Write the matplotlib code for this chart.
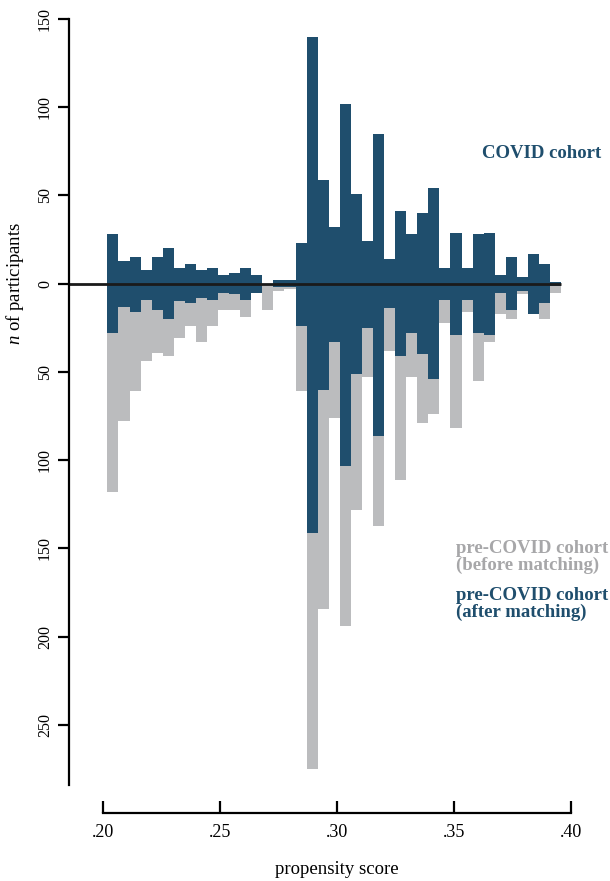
import numpy as np
import matplotlib
matplotlib.use('Agg')
import matplotlib.pyplot as plt

plt.rcParams['font.family'] = ['Liberation Serif', 'DejaVu Serif']
plt.rcParams['mathtext.fontset'] = 'custom'
plt.rcParams['mathtext.rm'] = 'Liberation Serif'
plt.rcParams['mathtext.it'] = 'Liberation Serif:italic'

# histogram bins (propensity score)
bin_start = 0.202
bin_width = 0.00473

# counts per bin
covid = [28, 13, 15, 8, 15, 20, 9, 11, 8, 9, 5, 6, 9, 5, 0, 2, 2, 23, 140, 59,
         32, 102, 51, 24, 85, 14, 41, 28, 40, 54, 9, 29, 9, 28, 29, 5, 15, 4, 17, 11, 1]
pre_after = [28, 13, 16, 9, 15, 20, 10, 11, 8, 9, 5, 6, 9, 5, 0, 2, 2, 24, 141, 60,
             33, 103, 51, 25, 86, 14, 41, 28, 40, 54, 9, 29, 9, 28, 29, 5, 15, 4, 17, 11, 1]
pre_before = [118, 78, 61, 44, 39, 41, 31, 24, 33, 24, 15, 15, 19, 5, 15, 4, 3, 61, 275, 184,
              76, 194, 128, 53, 137, 38, 111, 53, 79, 74, 22, 82, 16, 55, 33, 17, 20, 6, 17, 20, 5]

xticks = [0.20, 0.25, 0.30, 0.35, 0.40]
xticklabels = ['.20', '.25', '.30', '.35', '.40']
yticks = [150, 100, 50, 0, -50, -100, -150, -200, -250]

blue = '#1f4e6d'
gray = '#bbbcbe'
gray_text = '#a7a7a9'

W, H = 610, 881
fig = plt.figure(figsize=(W / 100, H / 100), dpi=100)
ax = fig.add_axes([69 / W, 1 - 785 / H, (580 - 69) / W, (785 - 19) / H])

edges = bin_start + bin_width * np.arange(len(covid))
ax.bar(edges, -np.array(pre_before), width=bin_width, align='edge', color=gray, linewidth=0)
ax.bar(edges, -np.array(pre_after), width=bin_width, align='edge', color=blue, linewidth=0)
ax.bar(edges, covid, width=bin_width, align='edge', color=blue, linewidth=0)

x0 = 0.2 - (102.7 - 69) / 2340
x1 = 0.2 + (580 - 102.7) / 2340
ax.plot([x0, edges[-1] + bin_width], [0, 0], color='#1a1a1a', lw=2.0, solid_capstyle='butt')

ax.set_xlim(x0, x1)
ax.set_ylim(-284, 150)

for s in ['top', 'right']:
    ax.spines[s].set_visible(False)
ax.spines['left'].set_linewidth(1.6)
ax.spines['bottom'].set_linewidth(1.6)
ax.spines['bottom'].set_position(('outward', 28 * 0.72))
ax.spines['bottom'].set_bounds(0.2, 0.4)

ax.set_xticks(xticks)
ax.set_xticklabels(xticklabels)
ax.tick_params(axis='x', direction='in', length=8.5, width=1.6, pad=8, labelsize=13)
ax.set_yticks(yticks)
ax.set_yticklabels([str(abs(v)) for v in yticks], rotation=90, va='center')
ax.tick_params(axis='y', direction='out', length=8, width=1.6, pad=3.5, labelsize=11.5)

fig.text(15 / W, 1 - 283 / H, r'$n$ of participants', rotation=90,
         ha='center', va='center', fontsize=13.5)
fig.text(337 / W, 1 - 870 / H, 'propensity score', ha='center', va='center', fontsize=13.5)

fig.text(601 / W, 1 - 153 / H, 'COVID cohort', ha='right', va='center',
         fontsize=13.5, fontweight='bold', color=blue)
fig.text(456 / W, 1 - 557 / H, 'pre-COVID cohort\n(before matching)', ha='left', va='center',
         fontsize=13.5, fontweight='bold', color=gray_text, linespacing=1.05)
fig.text(456 / W, 1 - 604 / H, 'pre-COVID cohort\n(after matching)', ha='left', va='center',
         fontsize=13.5, fontweight='bold', color=blue, linespacing=1.05)

fig.savefig('out.png', dpi=100)
